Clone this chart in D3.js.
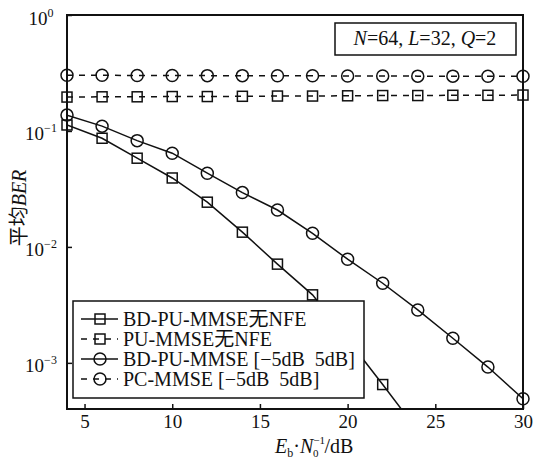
<!DOCTYPE html>
<html>
<head>
<meta charset="utf-8">
<script src="https://cdn.jsdelivr.net/npm/d3@7"></script>
<style>
  body { margin: 0; background: #fff; }
</style>
</head>
<body>
<div id="chart"></div>
<script>
const margin = {top: 15, right: 10, bottom: 53, left: 67};
const width = 533 - margin.left - margin.right;
const height = 462 - margin.top - margin.bottom;

// Data
const snr = [4, 6, 8, 10, 12, 14, 16, 18, 20, 22, 24, 26, 28, 30];
const bdPuNoNfe = [0.1126, 0.0865, 0.0582, 0.0393, 0.0243, 0.0134, 0.0071, 0.00386, 0.0016, 0.00065, 0.00026];
const puNoNfe = [0.196, 0.197, 0.197, 0.198, 0.198, 0.199, 0.2, 0.2, 0.201, 0.202, 0.202, 0.203, 0.203, 0.204];
const bdPu = [0.137, 0.110, 0.0825, 0.0643, 0.0432, 0.0294, 0.0208, 0.0131, 0.00783, 0.00486, 0.00286, 0.00163, 0.00092, 0.00049];
const pc = [0.302, 0.302, 0.301, 0.301, 0.300, 0.300, 0.299, 0.299, 0.298, 0.298, 0.297, 0.297, 0.296, 0.296];

const seriesNames = ["BD-PU-MMSE无NFE", "PU-MMSE无NFE", "BD-PU-MMSE [−5dB \u00a05dB]", "PC-MMSE [−5dB \u00a05dB]"];
const xTicks = [5, 10, 15, 20, 25, 30];
const yTicks = [1, 0.1, 0.01, 0.001];
const yTickExp = ["0", "−1", "−2", "−3"];

const series = [
  {name: seriesNames[0], values: bdPuNoNfe, marker: "square", dashed: false},
  {name: seriesNames[1], values: puNoNfe, marker: "square", dashed: true},
  {name: seriesNames[2], values: bdPu, marker: "circle", dashed: false},
  {name: seriesNames[3], values: pc, marker: "circle", dashed: true}
];

const serif = "'Liberation Serif', 'Times New Roman', 'Noto Sans CJK SC', serif";

const root = d3.select("#chart")
    .append("svg")
    .attr("width", width + margin.left + margin.right)
    .attr("height", height + margin.top + margin.bottom)
    .attr("font-family", serif);
const svg = root.append("g")
    .attr("transform", `translate(${margin.left},${margin.top})`);

const x = d3.scaleLinear().domain([4, 30]).range([0, width]);
const y = d3.scaleLog().domain([4e-4, 1]).range([height, 0]);

svg.append("clipPath").attr("id", "plot-clip")
  .append("rect").attr("width", width).attr("height", height);

// Axes with inward ticks
const xAxis = svg.append("g")
    .attr("transform", `translate(0,${height})`)
    .call(d3.axisBottom(x).tickValues(xTicks).tickSize(-5).tickFormat(""));
const yAxis = svg.append("g")
    .call(d3.axisLeft(y).tickValues(yTicks).tickSize(-5).tickFormat(""));
[xAxis, yAxis].forEach(a => {
  a.attr("font-family", serif);
  a.select(".domain").remove();
  a.selectAll(".tick line").attr("stroke", "#111").attr("stroke-width", 1.5);
});

xAxis.selectAll(".tick").append("text")
    .attr("y", 19)
    .attr("fill", "#111")
    .attr("text-anchor", "middle")
    .style("font-size", "19px")
    .text(d => d);

yAxis.selectAll(".tick").each(function(d, i) {
  const t = d3.select(this).append("text")
      .attr("x", -26)
      .attr("y", 9)
      .attr("fill", "#111")
      .attr("text-anchor", "middle")
      .style("font-size", "19px");
  t.append("tspan").text("10");
  t.append("tspan").attr("dy", -8).style("font-size", "12px").text(yTickExp[i]);
});

// Frame
svg.append("rect")
    .attr("width", width)
    .attr("height", height)
    .attr("fill", "none")
    .attr("stroke", "#111")
    .attr("stroke-width", 2);

// Lines
const line = d3.line()
    .x((d, i) => x(snr[i]))
    .y(d => y(d));

const plot = svg.append("g");
plot.selectAll("path.series")
  .data(series)
  .enter()
  .append("path")
    .attr("class", "series")
    .attr("clip-path", "url(#plot-clip)")
    .attr("fill", "none")
    .attr("stroke", "#111")
    .attr("stroke-width", 1.5)
    .attr("stroke-dasharray", d => d.dashed ? "6,6" : null)
    .attr("d", d => line(d.values));

function drawMarker(g, type, cx, cy) {
  if (type === "circle") {
    g.append("circle").attr("cx", cx).attr("cy", cy).attr("r", 6)
      .attr("fill", "none").attr("stroke", "#111").attr("stroke-width", 1.5);
  } else {
    g.append("rect").attr("x", cx - 5).attr("y", cy - 5).attr("width", 10).attr("height", 10)
      .attr("fill", "none").attr("stroke", "#111").attr("stroke-width", 1.5);
  }
}

series.forEach(s => {
  s.values.forEach((v, i) => {
    if (v >= y.domain()[0]) drawMarker(plot, s.marker, x(snr[i]), y(v));
  });
});

// Parameter box
const pbox = svg.append("g").attr("transform", "translate(268,8)");
pbox.append("rect").attr("width", 181).attr("height", 32)
    .attr("fill", "#fff").attr("stroke", "#111").attr("stroke-width", 1.5);
const ptext = pbox.append("text").attr("x", 90).attr("y", 22)
    .attr("fill", "#111")
    .attr("text-anchor", "middle").style("font-size", "20px");
[["N", true], ["=64, ", false], ["L", true], ["=32, ", false], ["Q", true], ["=2", false]]
  .forEach(p => ptext.append("tspan").style("font-style", p[1] ? "italic" : "normal").text(p[0]));

// Legend
const legend = svg.append("g").attr("transform", "translate(6,286)");
legend.append("rect").attr("width", 291).attr("height", 97)
    .attr("fill", "#fff").attr("stroke", "#111").attr("stroke-width", 1.5);
series.forEach((s, i) => {
  const row = legend.append("g").attr("transform", `translate(0,${18 + i * 20})`);
  row.append("line")
      .attr("x1", 8).attr("x2", 45).attr("y1", 0).attr("y2", 0)
      .attr("stroke", "#111").attr("stroke-width", 1.5)
      .attr("stroke-dasharray", s.dashed ? "6,6" : null);
  drawMarker(row, s.marker, 27, 0);
  row.append("text").attr("x", 50).attr("y", 7)
      .attr("fill", "#111")
      .style("font-size", "20px")
      .text(s.name);
});

// Y label
const yl = svg.append("text")
    .attr("transform", `translate(${26 - margin.left},${(height / 2) - 4}) rotate(-90)`)
    .attr("fill", "#111")
    .attr("text-anchor", "middle")
    .style("font-size", "20px");
yl.append("tspan").text("平均");
yl.append("tspan").style("font-style", "italic").text("BER");

// X label
const xl = svg.append("text")
    .attr("transform", `translate(${208},${height + 44})`)
    .attr("fill", "#111")
    .style("font-size", "20px");
xl.append("tspan").style("font-style", "italic").text("E");
xl.append("tspan").attr("dy", 4).style("font-size", "12px").text("b");
xl.append("tspan").attr("dy", -4).text("·");
xl.append("tspan").style("font-style", "italic").text("N");
xl.append("tspan").attr("dy", -9).style("font-size", "11px").text("−1");
xl.append("tspan").attr("dx", -12).attr("dy", 13).style("font-size", "11px").text("0");
xl.append("tspan").attr("dx", 6).attr("dy", -4).text("/dB");
</script>
</body>
</html>
